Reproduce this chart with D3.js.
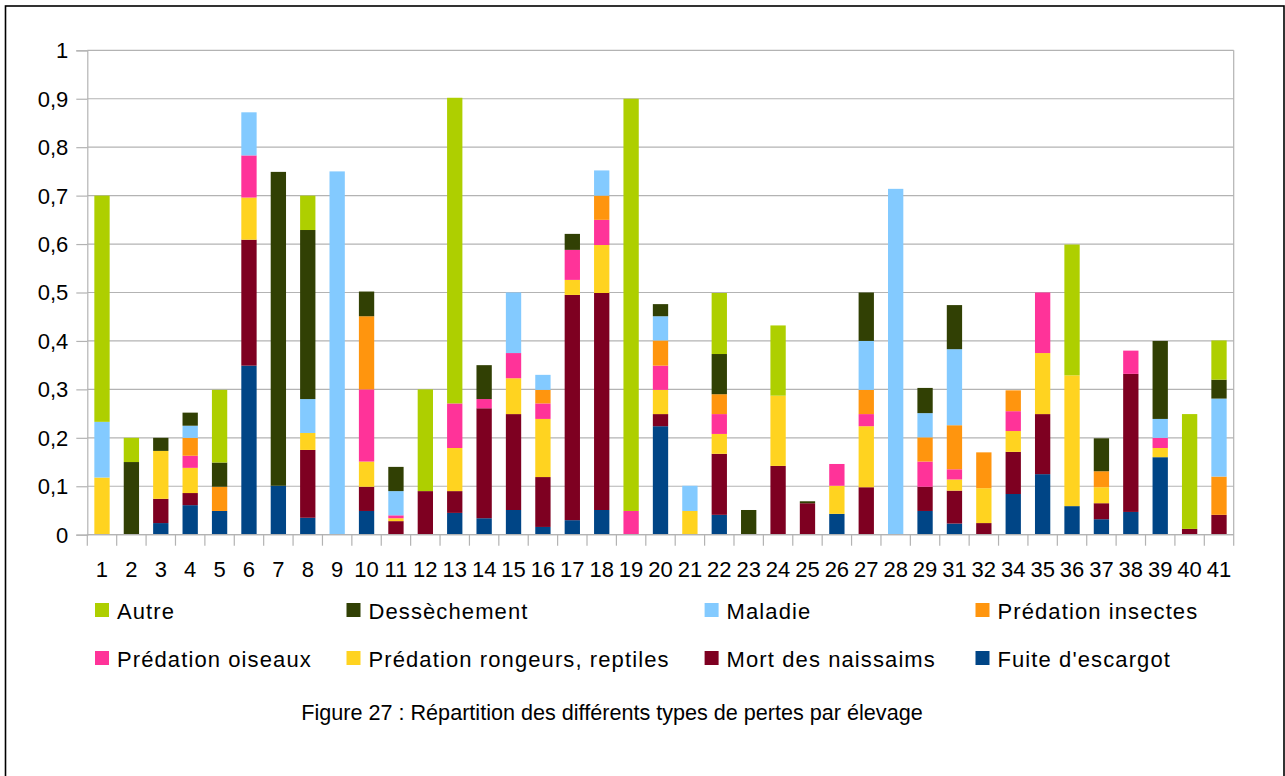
<!DOCTYPE html>
<html>
<head>
<meta charset="utf-8">
<script src="https://cdn.jsdelivr.net/npm/d3@7"></script>
<style>
  html, body { margin: 0; padding: 0; background: #fff; }
  svg { display: block; }
  text { font-family: "Liberation Sans", Arial, sans-serif; fill: #000; }
</style>
</head>
<body>
<svg id="chart" width="1285" height="776"></svg>
<script>
// ---------------- data ----------------
const categories = ["1","2","3","4","5","6","7","8","9","10","11","12","13","14","15","16","17","18","19","20","21","22","23","24","25","26","27","28","29","31","32","34","35","36","37","38","39","40","41"];

const fuite     = [0,0,0.024,0.061,0.049,0.349,0.101,0.035,0,0.049,0,0,0.045,0.034,0.051,0.016,0.030,0.051,0,0.224,0,0.041,0,0,0,0.043,0,0,0.049,0.023,0,0.084,0.125,0.059,0.032,0.047,0.160,0,0];
const mort      = [0,0,0.050,0.025,0,0.260,0,0.140,0,0.050,0.028,0.090,0.045,0.227,0.198,0.103,0.465,0.448,0,0.025,0,0.126,0,0.142,0.065,0,0.098,0,0.050,0.068,0.024,0.087,0.124,0,0.033,0.285,0,0.012,0.041];
const rongeurs  = [0.118,0,0.099,0.052,0,0.087,0,0.035,0,0.052,0.006,0,0.089,0,0.074,0.120,0.031,0.099,0,0.050,0.049,0.041,0,0.145,0,0.058,0.126,0,0,0.023,0.072,0.043,0.126,0.270,0.033,0,0.019,0,0];
const oiseaux   = [0,0,0,0.025,0,0.087,0,0,0,0.149,0.006,0,0.092,0.019,0.052,0.032,0.062,0.052,0.049,0.050,0,0.041,0,0,0,0.045,0.025,0,0.052,0.021,0,0.041,0.125,0,0,0.048,0.021,0,0];
const insectes  = [0,0,0,0.037,0.050,0,0,0,0,0.151,0,0,0,0,0,0.028,0,0.050,0,0.052,0,0.041,0,0,0,0,0.050,0,0.050,0.091,0.074,0.043,0,0,0.033,0,0,0,0.079];
const maladie   = [0.115,0,0,0.025,0,0.089,0,0.070,0.750,0,0.050,0,0,0,0.125,0.031,0,0.052,0,0.050,0.052,0,0,0,0,0,0.101,0.714,0.050,0.157,0,0,0,0,0,0,0.039,0,0.161];
const dessech   = [0,0.150,0.027,0.027,0.050,0,0.648,0.349,0,0.051,0.050,0,0,0.070,0,0,0.033,0,0,0.025,0,0.083,0.051,0,0.004,0,0.100,0,0.052,0.091,0,0,0,0,0.068,0,0.161,0,0.039];
const autre     = [0.467,0.050,0,0,0.150,0,0,0.071,0,0,0,0.210,0.631,0,0,0,0,0,0.851,0,0,0.126,0,0.145,0,0,0,0,0,0,0,0,0,0.270,0,0,0,0.237,0.081];

// series from bottom to top
const seriesNames  = ["Fuite d'escargot","Mort des naissaims","Prédation rongeurs, reptiles","Prédation oiseaux","Prédation insectes","Maladie","Dessèchement","Autre"];
const seriesValues = [fuite, mort, rongeurs, oiseaux, insectes, maladie, dessech, autre];
const seriesColors = ["#004586","#7e0021","#ffd320","#ff3399","#ff950e","#83caff","#314004","#aecf00"];

// legend order (rows, left to right)
const legendOrder = ["Autre","Dessèchement","Maladie","Prédation insectes","Prédation oiseaux","Prédation rongeurs, reptiles","Mort des naissaims","Fuite d'escargot"];

const yTicks = [0,0.1,0.2,0.3,0.4,0.5,0.6,0.7,0.8,0.9,1];
const title = "Figure 27 : Répartition des différents types de pertes par élevage";

// ---------------- layout ----------------
const svg = d3.select("#chart");
const L = 87.3, R = 1233.7, T = 50.3, B = 534.7;
const grid = "#b3b3b3";
const FONT = '"Liberation Sans", Arial, sans-serif';

// outer frame
svg.append("rect")
  .attr("x", 5.5).attr("y", 6).attr("width", 1278.5).attr("height", 800)
  .attr("fill", "none").attr("stroke", "#000").attr("stroke-width", 1.6);

const rows = categories.map((c, i) => {
  const o = { cat: c };
  seriesNames.forEach((s, k) => o[s] = seriesValues[k][i]);
  return o;
});

const x = d3.scaleBand().domain(categories).range([L, R]).paddingInner(0.479).paddingOuter(0.2395);
const y = d3.scaleLinear().domain([0, 1]).range([B, T]);
const color = d3.scaleOrdinal().domain(seriesNames).range(seriesColors);

// horizontal grid
svg.append("g").selectAll("line").data(yTicks).join("line")
  .attr("x1", L).attr("x2", R)
  .attr("y1", d => y(d)).attr("y2", d => y(d))
  .attr("stroke", grid).attr("stroke-width", 1.2);

// right border of plot
svg.append("line").attr("x1", R).attr("x2", R).attr("y1", T).attr("y2", B)
  .attr("stroke", grid).attr("stroke-width", 1.2);

// y axis
const fmt = d => (d === 0 ? "0" : d === 1 ? "1" : d3.format(".1f")(d).replace(".", ","));
const yAxis = svg.append("g").attr("transform", `translate(${L},0)`)
  .call(d3.axisLeft(y).tickValues(yTicks).tickFormat(fmt).tickSize(11).tickPadding(8));
yAxis.select(".domain").attr("stroke", grid).attr("stroke-width", 1.2);
yAxis.selectAll(".tick line").attr("stroke", grid).attr("stroke-width", 1.2);
yAxis.selectAll("text").attr("font-size", 22).attr("fill", "#000").attr("dy", "0.34em")
  .style("font-family", FONT);

// bars
const stack = d3.stack().keys(seriesNames);
const stacked = stack(rows);
svg.append("g").selectAll("g").data(stacked).join("g")
  .attr("fill", d => color(d.key))
  .selectAll("rect").data(d => d).join("rect")
  .attr("x", d => x(d.data.cat))
  .attr("width", x.bandwidth())
  .attr("y", d => y(d[1]))
  .attr("height", d => Math.max(0, y(d[0]) - y(d[1])));

// x axis labels
const xAxis = svg.append("g").attr("transform", `translate(0,${B})`)
  .call(d3.axisBottom(x).tickSize(0).tickPadding(26.5));
xAxis.select(".domain").remove();
xAxis.selectAll("text").attr("font-size", 22).attr("fill", "#000")
  .style("font-family", FONT);

// x axis line and boundary ticks
svg.append("line").attr("x1", L).attr("x2", R).attr("y1", B).attr("y2", B)
  .attr("stroke", grid).attr("stroke-width", 1.2);
const step = x.step();
svg.append("g").selectAll("line").data(d3.range(categories.length + 1)).join("line")
  .attr("x1", i => L + i * step).attr("x2", i => L + i * step)
  .attr("y1", B).attr("y2", B + 11)
  .attr("stroke", grid).attr("stroke-width", 1.2);

// legend
const colX = [95, 346.5, 704.6, 975.5];
const rowY = [603, 651];
const lg = svg.append("g");
legendOrder.forEach((name, i) => {
  const cx = colX[i % 4], ry = rowY[Math.floor(i / 4)];
  lg.append("rect").attr("x", cx).attr("y", ry).attr("width", 14).attr("height", 14)
    .attr("fill", color(name));
  lg.append("text").attr("x", cx + 22).attr("y", ry + 15.8)
    .attr("font-size", 22).attr("letter-spacing", 1.1).text(name);
});

// title
svg.append("text").attr("x", 612).attr("y", 719.5).attr("text-anchor", "middle")
  .attr("font-size", 21.6).text(title);
</script>
</body>
</html>
